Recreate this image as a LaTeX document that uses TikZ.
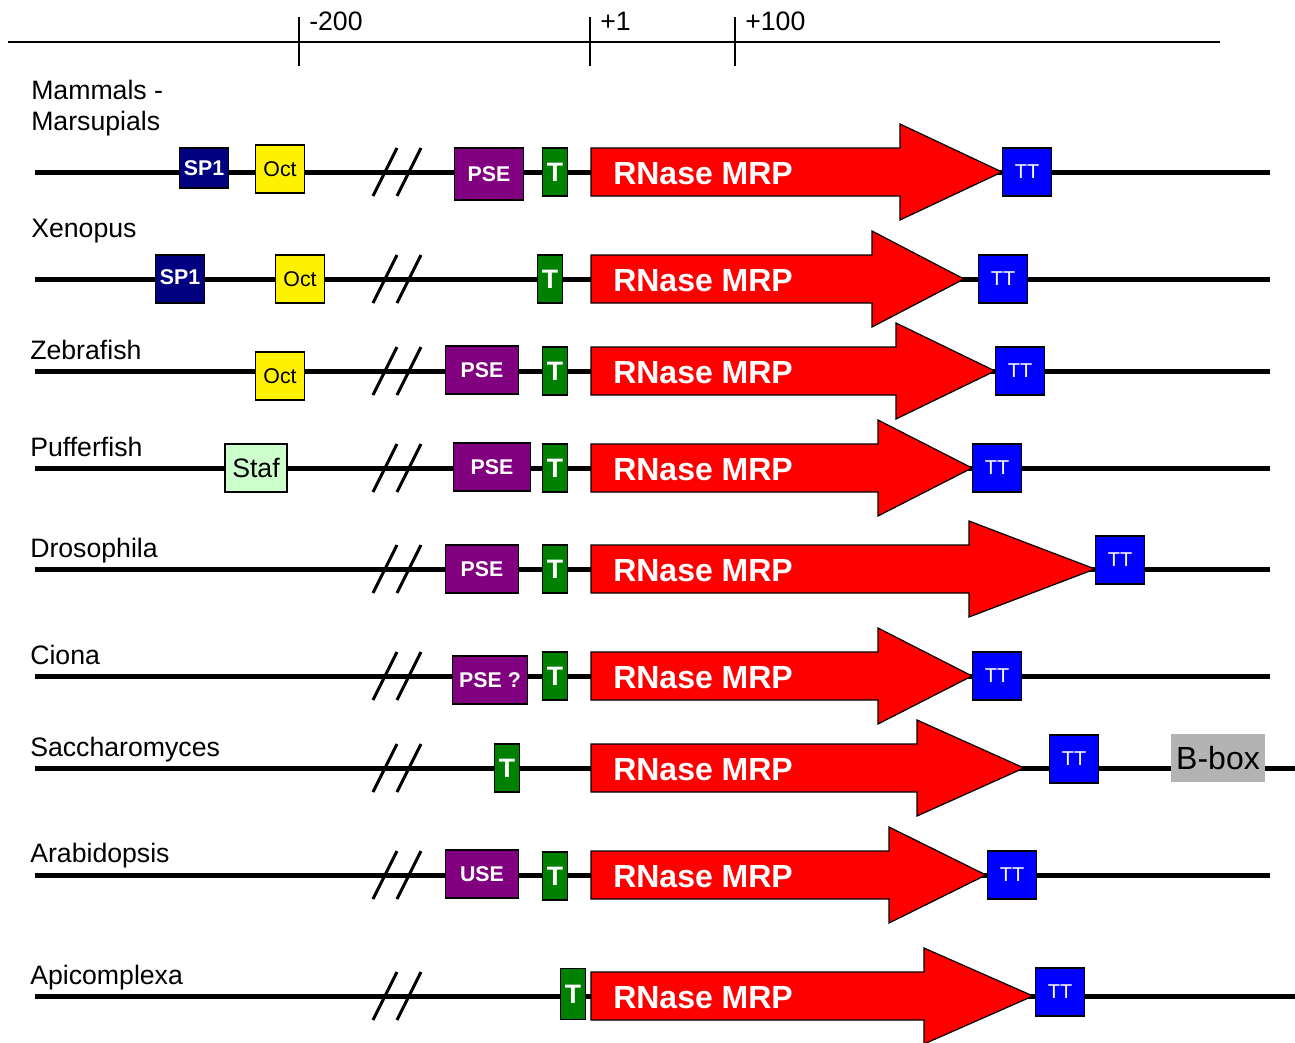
\documentclass[tikz,border=0pt]{standalone}
\usepackage{fontspec}
\setmainfont{Liberation Sans}
\usepackage{xcolor}
\usetikzlibrary{positioning}

\definecolor{spnavy}{RGB}{0,0,128}
\definecolor{pseviolet}{RGB}{128,0,128}
\definecolor{tgreen}{RGB}{0,128,0}
\definecolor{stafgreen}{RGB}{204,255,204}
\definecolor{bboxgray}{RGB}{179,179,179}

\tikzset{
  axis/.style={line width=1.1pt},
  dna/.style={line width=3.75pt},
  cut/.style={line width=2.2pt},
  elem/.style={draw, line width=0.9pt, inner sep=0pt, minimum height=36pt, text=white, font=\fontsize{16}{18}\selectfont\bfseries},
  sponebox/.style={elem, fill=spnavy, minimum width=36.75pt},
  octbox/.style={elem, fill=yellow, text=black, minimum width=36.75pt, font=\fontsize{16}{18}\selectfont},
  psebox/.style={elem, fill=pseviolet, minimum width=54.75pt},
  tbox/.style={elem, fill=tgreen, minimum width=18.75pt, font=\fontsize{20}{22}\selectfont\bfseries},
  ttbox/.style={elem, fill=blue, minimum width=36.75pt, font=\fontsize{15}{17}\selectfont},
  mrp/.style={draw, line width=0.9pt, fill=red},
  mrplabel/.style={anchor=base west, inner sep=0pt, text=white, font=\fontsize{24}{28}\selectfont\bfseries},
  species/.style={anchor=base west, inner sep=0pt, font=\fontsize{20}{23.25}\selectfont},
}

\begin{document}
\begin{tikzpicture}[x=0.75pt, y=-0.75pt]
  \useasboundingbox (0,0) rectangle (1295,1042);

  % position scale
  \coordinate (ax-l) at (8,42);
  \coordinate (ax-r) at (1220,42);
  \draw[axis] (ax-l) -- (ax-r);
  \foreach \x/\lab in {299/-200, 590/+1, 735/+100} {
    \draw[axis] (\x,17) -- (\x,66);
    \node[species] (tick\x) at (\x+10,30) {\lab};
  }

  % Mammals - Marsupials
  \node[species, align=left] (mammals) at (31,130) {Mammals -\\Marsupials};
  \coordinate (m-s) at (35,172);
  \coordinate (m-e) at (1270,172);
  \draw[dna] (m-s) -- (m-e);
  \draw[mrp] (591,148) -- (900,148) -- (900,124) -- (1002,172) -- (900,220) -- (900,196) -- (591,196) -- cycle;
  \node[mrplabel] (m-mrp) at (613,184) {RNase MRP};
  \node[sponebox, minimum height=30pt] (m-sp1) at (204,168) {SP1};
  \node[octbox] (m-oct) at (280,169) {Oct};
  \node[psebox, minimum width=51.75pt, minimum height=39pt] (m-pse) at (489,174) {PSE};
  \node[tbox] (m-t) at (555,172) {\raisebox{-2pt}{T}};
  \node[ttbox] (m-tt) at (1027,172) {TT};

  % Xenopus
  \node[species] (xenopus) at (31,237) {Xenopus};
  \coordinate (x-s) at (35,279);
  \coordinate (x-e) at (1270,279);
  \draw[dna] (x-s) -- (x-e);
  \draw[mrp] (591,255) -- (872,255) -- (872,231) -- (964,279) -- (872,327) -- (872,303) -- (591,303) -- cycle;
  \node[mrplabel] (x-mrp) at (613,291) {RNase MRP};
  \node[sponebox] (x-sp1) at (180,279) {\raisebox{3pt}{SP1}};
  \node[octbox] (x-oct) at (300,279) {Oct};
  \node[tbox] (x-t) at (550,279) {\raisebox{-2pt}{T}};
  \node[ttbox] (x-tt) at (1003,279) {TT};

  % Zebrafish
  \node[species] (zebrafish) at (30,359) {Zebrafish};
  \coordinate (z-s) at (35,371);
  \coordinate (z-e) at (1270,371);
  \draw[dna] (z-s) -- (z-e);
  \draw[mrp] (591,347) -- (896,347) -- (896,323) -- (995,371) -- (896,419) -- (896,395) -- (591,395) -- cycle;
  \node[mrplabel] (z-mrp) at (613,383) {RNase MRP};
  \node[octbox] (z-oct) at (280,376) {Oct};
  \node[psebox] (z-pse) at (482,370) {PSE};
  \node[tbox] (z-t) at (555,371) {\raisebox{-2pt}{T}};
  \node[ttbox] (z-tt) at (1020,371) {TT};

  % Pufferfish
  \node[species] (pufferfish) at (30,456) {Pufferfish};
  \coordinate (p-s) at (35,468);
  \coordinate (p-e) at (1270,468);
  \draw[dna] (p-s) -- (p-e);
  \draw[mrp] (591,444) -- (878,444) -- (878,420) -- (972,468) -- (878,516) -- (878,492) -- (591,492) -- cycle;
  \node[mrplabel] (p-mrp) at (613,480) {RNase MRP};
  \node[octbox, fill=stafgreen, minimum width=46.5pt, font=\fontsize{20}{22}\selectfont] (p-staf) at (256,468) {Staf};
  \node[psebox, minimum width=57.75pt] (p-pse) at (492,467) {PSE};
  \node[tbox] (p-t) at (555,468) {\raisebox{-2pt}{T}};
  \node[ttbox] (p-tt) at (997,468) {TT};

  % Drosophila
  \node[species] (drosophila) at (30,557) {Drosophila};
  \coordinate (d-s) at (35,569);
  \coordinate (d-e) at (1270,569);
  \draw[dna] (d-s) -- (d-e);
  \draw[mrp] (591,545) -- (969,545) -- (969,521) -- (1095,569) -- (969,617) -- (969,593) -- (591,593) -- cycle;
  \node[mrplabel] (d-mrp) at (613,581) {RNase MRP};
  \node[psebox] (d-pse) at (482,569) {PSE};
  \node[tbox] (d-t) at (555,569) {\raisebox{-2pt}{T}};
  \node[ttbox] (d-tt) at (1120,560) {TT};

  % Ciona
  \node[species] (ciona) at (30,664) {Ciona};
  \coordinate (c-s) at (35,676);
  \coordinate (c-e) at (1270,676);
  \draw[dna] (c-s) -- (c-e);
  \draw[mrp] (591,652) -- (878,652) -- (878,628) -- (972,676) -- (878,724) -- (878,700) -- (591,700) -- cycle;
  \node[mrplabel] (c-mrp) at (613,688) {RNase MRP};
  \node[psebox, minimum width=56.25pt] (c-pse) at (490,680) {PSE ?};
  \node[tbox] (c-t) at (555,676) {\raisebox{-2pt}{T}};
  \node[ttbox] (c-tt) at (997,676) {TT};

  % Saccharomyces
  \node[species] (saccharomyces) at (30,756) {Saccharomyces};
  \coordinate (s-s) at (35,768);
  \coordinate (s-e) at (1295,768);
  \draw[dna] (s-s) -- (s-e);
  \draw[mrp] (591,744) -- (917,744) -- (917,720) -- (1024,768) -- (917,816) -- (917,792) -- (591,792) -- cycle;
  \node[mrplabel] (s-mrp) at (613,780) {RNase MRP};
  \node[tbox] (s-t) at (507,768) {\raisebox{-2pt}{T}};
  \node[ttbox] (s-tt) at (1074,759) {TT};
  \node[fill=bboxgray, inner sep=0pt, minimum width=70.5pt, minimum height=36pt, font=\fontsize{24}{28}\selectfont] (s-bbox) at (1218,758) {B-box};

  % Arabidopsis
  \node[species] (arabidopsis) at (30,862) {Arabidopsis};
  \coordinate (a-s) at (35,875);
  \coordinate (a-e) at (1270,875);
  \draw[dna] (a-s) -- (a-e);
  \draw[mrp] (591,851) -- (889,851) -- (889,827) -- (986,875) -- (889,923) -- (889,899) -- (591,899) -- cycle;
  \node[mrplabel] (a-mrp) at (613,887) {RNase MRP};
  \node[psebox] (a-use) at (482,874) {USE};
  \node[tbox] (a-t) at (555,876) {\raisebox{-2pt}{T}};
  \node[ttbox] (a-tt) at (1012,875) {TT};

  % Apicomplexa
  \node[species] (apicomplexa) at (30,984) {Apicomplexa};
  \coordinate (ap-s) at (35,996);
  \coordinate (ap-e) at (1295,996);
  \draw[dna] (ap-s) -- (ap-e);
  \draw[mrp] (591,972) -- (924,972) -- (924,948) -- (1033,996) -- (924,1044) -- (924,1020) -- (591,1020) -- cycle;
  \node[mrplabel] (ap-mrp) at (613,1008) {RNase MRP};
  \node[tbox, minimum height=38pt] (ap-t) at (573,994) {T};
  \node[ttbox] (ap-tt) at (1060,992) {TT};

  % gaps in the sequence
  \foreach \y in {172,279,371,468,569,676,768,875,996}
    \draw[cut] (373,\y+24) -- (397,\y-24) (397,\y+24) -- (421,\y-24);
\end{tikzpicture}
\end{document}
